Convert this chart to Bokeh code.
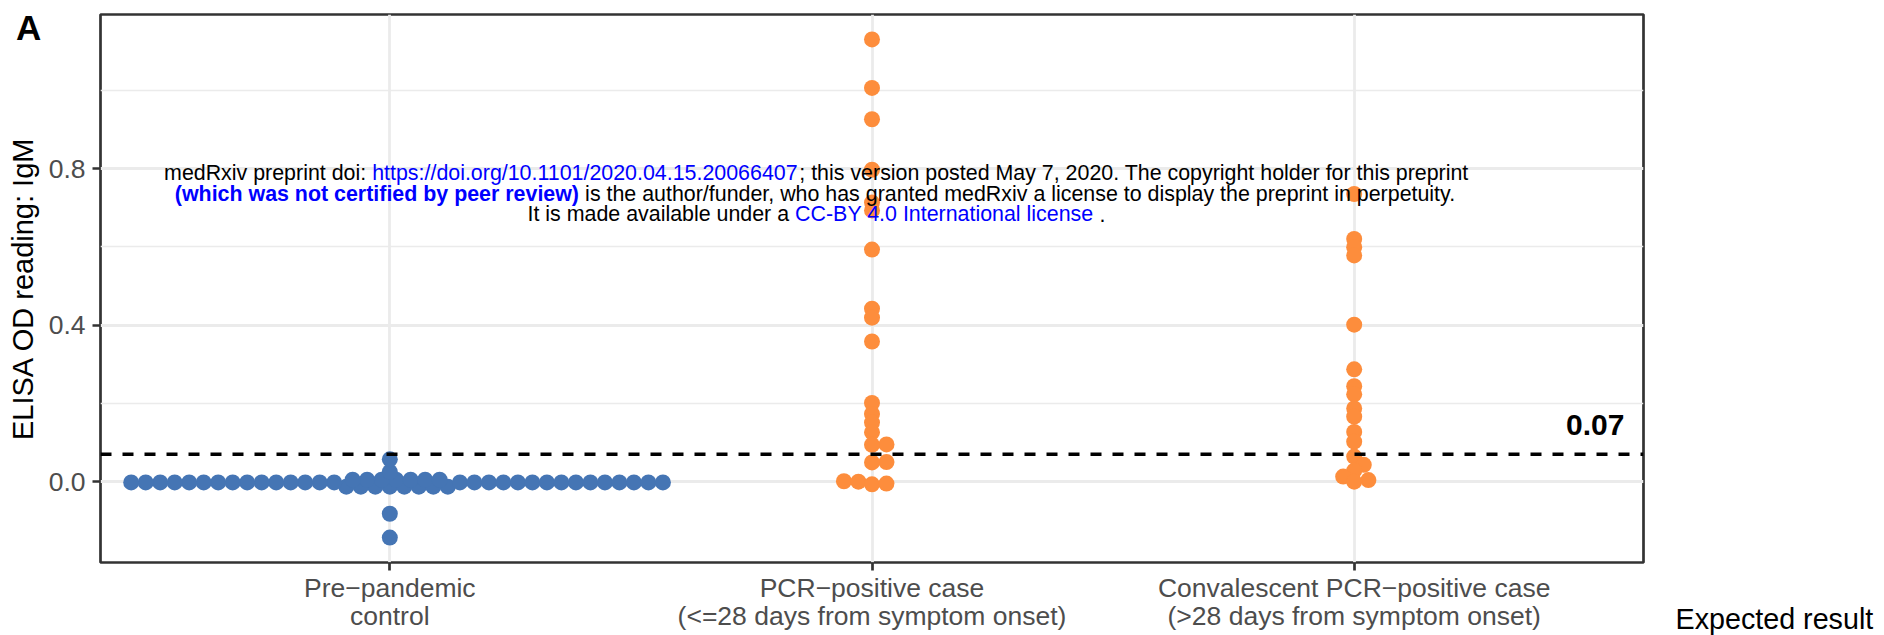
import math
from bokeh.plotting import figure
from bokeh.models import Range1d, FixedTicker, Span, Label, PrintfTickFormatter, ColumnDataSource
from bokeh.embed import file_html
from bokeh.resources import INLINE
from bokeh.core.properties import value

# ---------------- data ----------------
groups = ["Pre\u2212pandemic\ncontrol",
          "PCR\u2212positive case\n(<=28 days from symptom onset)",
          "Convalescent PCR\u2212positive case\n(>28 days from symptom onset)"]

pre_pandemic = [-0.143, -0.082,
                -0.013, -0.013, -0.013, -0.013, -0.013, -0.013, -0.013, -0.013,
                -0.002, -0.002, -0.002, -0.002, -0.002, -0.002, -0.002, -0.002, -0.002, -0.002,
                -0.002, -0.002, -0.002, -0.002, -0.002, -0.002, -0.002, -0.002, -0.002, -0.002,
                -0.002, -0.002, -0.002, -0.002, -0.002, -0.002, -0.002, -0.002, -0.002, -0.002,
                0.005, 0.005, 0.005, 0.005, 0.005, 0.005, 0.005,
                0.025, 0.057]
pcr_recent = [1.130, 1.006, 0.926, 0.797, 0.713, 0.693, 0.593, 0.442, 0.419, 0.358,
              0.201, 0.173, 0.151, 0.126, 0.095, 0.094, 0.050, 0.049,
              0.001, 0.000, -0.007, -0.005]
convalescent = [0.735, 0.620, 0.599, 0.578, 0.401, 0.287, 0.244, 0.223, 0.187, 0.166,
                0.127, 0.102, 0.064, 0.043, 0.028, 0.013, 0.004, 0.000]

cutoff = 0.07
cutoff_label = "0.07"
y_ticks = [0.0, 0.4, 0.8]
y_minor = [0.2, 0.6, 1.0]
y_title = "ELISA OD reading: IgM"
panel_tag = "A"
legend_title = "Expected result"
notice_lines = [
    [("medRxiv preprint doi: ", "black", False),
     ("https://doi.org/10.1101/2020.04.15.20066407", "#0000FF", False),
     ("; this version posted May 7, 2020. The copyright holder for this preprint", "black", False)],
    [("(which was not certified by peer review)", "#0000FF", True),
     (" is the author/funder, who has granted medRxiv a license to display the preprint in perpetuity.", "black", False)],
    [("It is made available under a ", "black", False),
     ("CC-BY 4.0 International license", "#0000FF", False),
     (" .", "black", False)],
]

# ---------------- layout (page pixels) ----------------
W, H = 1884, 635
FL, FT, FR, FB = 100, 14, 1643, 562
FONT = "Liberation Sans"
BASE_SHIFT = 0.34   # em; rendered text sits this much below the requested anchor

x0, x1 = 0.4, 3.6
all_vals = pre_pandemic + pcr_recent + convalescent
lo, hi = min(all_vals), max(all_vals)
span = hi - lo
y0, y1 = lo - 0.05 * span, hi + 0.05 * span

def px_x(X):
    return x0 + (X - FL) / (FR - FL) * (x1 - x0)

def px_y(Y):
    return y1 - (Y - FT) / (FB - FT) * (y1 - y0)

def base_y(baseline, size):
    return px_y(baseline - BASE_SHIFT * size)

# beeswarm ("swarm", ascending priority)
def swarm(vals, d, g):
    order = sorted(range(len(vals)), key=lambda i: vals[i])
    placed = []
    offs = [0.0] * len(vals)
    for idx in order:
        yi = vals[idx] / d
        pot = [(py, po) for (py, po) in placed if abs(yi - py) < 1]
        off = 0.0
        if pot:
            cands = [0.0] + [po + math.sqrt(1 - (yi - py) ** 2) for py, po in pot] \
                          + [po - math.sqrt(1 - (yi - py) ** 2) for py, po in pot]
            best = None
            for c in cands:
                if all((yi - py) ** 2 + (c - po) ** 2 >= 0.999 for py, po in pot):
                    if best is None or abs(c) < abs(best):
                        best = c
            off = best
        placed.append((yi, off))
        offs[idx] = off * g
    return offs

G_STEP = 14.5 * (x1 - x0) / (FR - FL)
D_STEP = 0.020

p = figure(width=W, height=H, x_range=Range1d(x0, x1), y_range=Range1d(y0, y1),
           output_backend="svg", toolbar_location=None,
           min_border_left=FL, min_border_right=W - FR, min_border_top=FT, min_border_bottom=H - FB)
p.background_fill_color = "white"
p.border_fill_color = "white"
p.outline_line_color = "#333333"
p.outline_line_width = 2.7

# grids
p.xgrid.ticker = FixedTicker(ticks=[1, 2, 3])
p.ygrid.ticker = FixedTicker(ticks=y_ticks, minor_ticks=y_minor)
for gr in (p.xgrid, p.ygrid):
    gr.grid_line_color = "#EBEBEB"
    gr.grid_line_width = 2.8
p.ygrid.minor_grid_line_color = "#EBEBEB"
p.ygrid.minor_grid_line_width = 1.5

# axes
p.xaxis.ticker = FixedTicker(ticks=[1, 2, 3])
p.xaxis.major_label_overrides = {1: groups[0], 2: groups[1], 3: groups[2]}
p.yaxis.ticker = FixedTicker(ticks=y_ticks, minor_ticks=y_minor)
p.yaxis.formatter = PrintfTickFormatter(format="%.1f")
p.yaxis.axis_label = y_title
for ax in (p.xaxis[0], p.yaxis[0]):
    ax.axis_line_color = None
    ax.major_tick_line_color = "#333333"
    ax.major_tick_line_width = 2.7
    ax.major_tick_out = 8
    ax.major_tick_in = 0
    ax.minor_tick_line_color = None
    ax.major_label_text_color = "#4D4D4D"
    ax.major_label_text_font = FONT
    ax.major_label_text_font_size = "26.5px"
p.xaxis.major_label_standoff = 2
p.xaxis.major_label_text_line_height = 0.94
p.yaxis.major_label_standoff = 7
p.yaxis.axis_label_standoff = 7
p.yaxis.axis_label_text_font = FONT
p.yaxis.axis_label_text_font_size = "29px"
p.yaxis.axis_label_text_font_style = "normal"
p.yaxis.axis_label_text_color = "black"

# cutoff line
p.add_layout(Span(location=cutoff, dimension="width", line_color="black",
                  line_width=3.4, line_dash="11 11"))

# points
series = [(pre_pandemic, 1, "#4575B4"), (pcr_recent, 2, "#FD8D3C"), (convalescent, 3, "#FD8D3C")]
for vals, gx, col in series:
    offs = swarm(vals, D_STEP, G_STEP)
    src = ColumnDataSource(dict(x=[gx + o for o in offs], y=vals))
    p.scatter("x", "y", source=src, size=16, fill_color=col, line_color=None)

# cutoff label (baseline ~20px above the cutoff line)
p.text(x=[3.5], y=[cutoff], text=[cutoff_label], text_align="center", text_baseline="alphabetic",
       y_offset=-(19.5 + BASE_SHIFT * 30), text_font=value(FONT), text_font_size="30px",
       text_font_style="bold", text_color="black")

# texts outside the panel: put them in the (empty) right side panel so they are not clipped
p.add_layout(Label(x=px_x(15.5), y=base_y(39, 35), text=panel_tag, text_font=FONT,
                   text_font_size="35px", text_font_style="bold", text_color="black",
                   text_align="left", text_baseline="alphabetic"), "right")
p.add_layout(Label(x=px_x(1675), y=base_y(628, 28.7), text=legend_title, text_font=FONT,
                   text_font_size="28.7px", text_color="black", text_align="left",
                   text_baseline="alphabetic"), "right")

# medRxiv notice (mixed colours)
REG = {' ': 278, '(': 333, ')': 333, ',': 278, '-': 333, '.': 278, '/': 278, ':': 278, ';': 278,
       'A': 667, 'B': 667, 'C': 722, 'D': 722, 'E': 667, 'I': 278, 'M': 833, 'R': 722, 'T': 611, 'Y': 667,
       'a': 556, 'b': 556, 'c': 500, 'd': 556, 'e': 556, 'f': 278, 'g': 556, 'h': 556, 'i': 222,
       'l': 222, 'm': 833, 'n': 556, 'o': 556, 'p': 556, 'r': 333, 's': 500, 't': 278, 'u': 556,
       'v': 500, 'w': 722, 'x': 500, 'y': 500}
BOLD = {' ': 278, '(': 333, ')': 333, 'a': 556, 'b': 611, 'c': 556, 'd': 611, 'e': 556, 'f': 333,
        'h': 611, 'i': 278, 'n': 611, 'o': 611, 'p': 611, 'r': 389, 's': 556, 't': 333, 'v': 556,
        'w': 778, 'y': 556}

def text_w(s, bold, size):
    tab = BOLD if bold else REG
    return sum(tab.get(ch, 556) for ch in s) / 1000.0 * size

NOTE_SIZE = 21.4
NOTE_CX = 816
for line, base in zip(notice_lines, [180, 200.5, 221]):
    total = sum(text_w(s, b, NOTE_SIZE) for s, c, b in line)
    xpos = NOTE_CX - total / 2
    for s, c, b in line:
        stripped = s.lstrip(" ")
        xpos += text_w(s[:len(s) - len(stripped)], b, NOTE_SIZE)
        p.add_layout(Label(x=px_x(xpos), y=base_y(base, NOTE_SIZE), text=stripped, text_font=FONT,
                           text_font_size=f"{NOTE_SIZE}px", text_color=c,
                           text_font_style="bold" if b else "normal",
                           text_align="left", text_baseline="alphabetic"))
        xpos += text_w(stripped, b, NOTE_SIZE)

open("out.html", "w").write(file_html(p, INLINE))
